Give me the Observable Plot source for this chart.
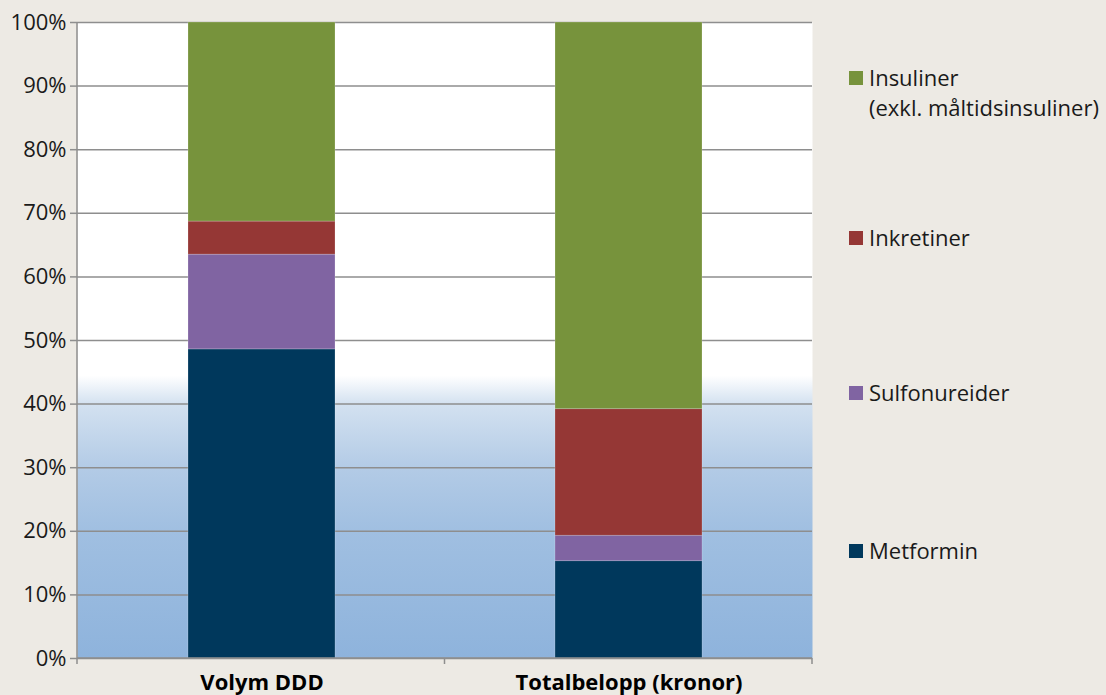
<!DOCTYPE html>
<html>
<head>
<meta charset="utf-8">
<script src="https://cdn.jsdelivr.net/npm/d3@7"></script>
<script src="https://cdn.jsdelivr.net/npm/@observablehq/plot@0.6"></script>
<style>
  html, body { margin: 0; padding: 0; background: #edeae4; }
  #wrap { position: relative; width: 1106px; height: 695px; overflow: hidden; font-family: "Open Sans", "Noto Sans", sans-serif; }
  #legend { position: absolute; left: 849px; top: 0; }
  .item { position: absolute; display: flex; align-items: flex-start; white-space: nowrap; font-size: 22px; color: #1a1a1a; line-height: 30px; }
  .sw { width: 14px; height: 14px; margin-top: 9px; margin-right: 6px; flex: none; }
</style>
</head>
<body>
<div id="wrap"><div id="legend"></div></div>
<script>
const categories = ["Volym DDD", "Totalbelopp (kronor)"];
const series = ["Metformin", "Sulfonureider", "Inkretiner", "Insuliner"];
const legendLabels = ["Insuliner\n(exkl. måltidsinsuliner)", "Inkretiner", "Sulfonureider", "Metformin"];
const legendOrder = ["Insuliner", "Inkretiner", "Sulfonureider", "Metformin"];
const colors = ["#00385c", "#8064a2", "#953735", "#77933c"];
const volymDDD = [48.6, 14.9, 5.2, 31.3];
const totalbelopp = [15.3, 4.0, 19.9, 60.8];
const yTicks = [0, 10, 20, 30, 40, 50, 60, 70, 80, 90, 100];

const data = [];
series.forEach((s, i) => {
  data.push({cat: categories[0], series: s, value: volymDDD[i]});
  data.push({cat: categories[1], series: s, value: totalbelopp[i]});
});

const plot = Plot.plot({
  width: 1106,
  height: 695,
  marginLeft: 77,
  marginTop: 22,
  marginBottom: 37,
  marginRight: 294,
  style: {background: "transparent", fontFamily: "'Open Sans', 'Noto Sans', sans-serif", color: "#1a1a1a"},
  x: {domain: categories, paddingInner: 0.6, paddingOuter: 0.3, label: null},
  y: {domain: [0, 100], label: null},
  color: {domain: series, range: colors},
  marks: [
    Plot.frame({fill: "url(#bgGrad)", stroke: null}),
    Plot.gridY(yTicks, {stroke: "#8e8e8e", strokeOpacity: 1, strokeWidth: 1.5}),
    Plot.barY(data, Plot.stackY({x: "cat", y: "value", fill: "series", order: series, stroke: "#ffffff", strokeOpacity: 0.25, strokeWidth: 0.8})),
    Plot.axisY(yTicks, {tickFormat: d => d + "%", tickSize: 7, tickPadding: 4, fontSize: 22, stroke: "#8e8e8e", strokeWidth: 1.5, fill: "#1a1a1a"}),
    Plot.axisX({tickSize: 0, tickPadding: 16, fontSize: 22, fontWeight: "bold", fill: "#000"})
  ]
});

// gradient background definition
const svg = d3.select(plot);
const defs = svg.insert("defs", ":first-child");
const grad = defs.append("linearGradient").attr("id", "bgGrad").attr("x1", 0).attr("y1", 0).attr("x2", 0).attr("y2", 1);
[[0, "#ffffff"], [0.555, "#ffffff"], [0.60, "#d3e1f0"], [0.70, "#b3cbe6"], [0.80, "#a0bfe1"], [1, "#8eb3dc"]]
  .forEach(([o, c]) => grad.append("stop").attr("offset", o).attr("stop-color", c));

// axis lines and category boundary ticks derived from scales
const xs = plot.scale("x"), ys = plot.scale("y");
const x0 = xs.range[0], x1 = xs.range[1];
const yb = ys.apply(0), yt = ys.apply(100);
const g = svg.append("g").attr("stroke", "#8e8e8e").attr("stroke-width", 1.5);
g.append("line").attr("x1", x0).attr("x2", x0).attr("y1", yt).attr("y2", yb);
g.append("line").attr("x1", x0).attr("x2", x1).attr("y1", yb).attr("y2", yb);
const step = (x1 - x0) / categories.length;
d3.range(categories.length + 1).forEach(i => {
  const xx = x0 + i * step;
  g.append("line").attr("x1", xx).attr("x2", xx).attr("y1", yb).attr("y2", yb + 6);
});

document.getElementById("wrap").prepend(plot);
plot.style.position = "absolute"; plot.style.left = "0"; plot.style.top = "0";

// legend
const legendTops = [62, 222, 377, 535];
const leg = document.getElementById("legend");
legendOrder.forEach((s, i) => {
  const it = document.createElement("div");
  it.className = "item";
  it.style.top = legendTops[i] + "px";
  const sw = document.createElement("div");
  sw.className = "sw";
  sw.style.background = colors[series.indexOf(s)];
  const tx = document.createElement("div");
  tx.style.whiteSpace = "pre";
  tx.textContent = legendLabels[i];
  it.appendChild(sw); it.appendChild(tx);
  leg.appendChild(it);
});
</script>
</body>
</html>
